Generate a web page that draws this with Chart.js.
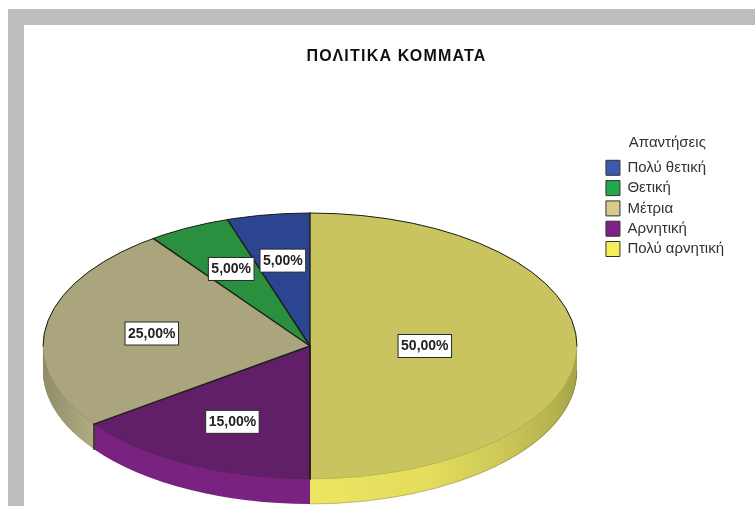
<!DOCTYPE html>
<html><head><meta charset="utf-8">
<style>
html,body{margin:0;padding:0;background:#fff;overflow:hidden}
#frame{position:absolute;left:8px;top:9px;width:747px;height:497px;background:#bdbdbd}
#wrap{position:absolute;left:24px;top:25px;width:731px;height:490px;background:#fff}
</style>
<script src="https://cdn.jsdelivr.net/npm/chart.js@4"></script>
</head><body>
<div id="frame"></div>
<div id="wrap"><canvas id="c" width="731" height="490"></canvas></div>
<script>
const chartTitle = 'ΠΟΛΙΤΙΚΑ ΚΟΜΜΑΤΑ';
const legendTitle = 'Απαντήσεις';
const categories = ['Πολύ αρνητική','Αρνητική','Μέτρια','Θετική','Πολύ θετική'];
const percentages = [50,15,25,5,5];
const topColors = ['#c9c45f','#611f68','#aba57e','#2a8f3e','#2b4590'];
const legendColors = ['#f5ee5b','#7d2289','#d8c98d','#23a84d','#3a5bab'];
const sideColors = ['#ebe35f','#7a2380','#b2ae83','#2a8f3e','#2b4590'];
const labelRadii = [0.43,0.64,0.6,0.65,0.65];

const PIE = {x:286, y:321, rx:267, ry:133, depth:25};
const R = 200;
const FONT = '"Liberation Sans", Arial, sans-serif';

const ellipsePie = {
  id:'ellipsePie',
  beforeDraw(chart){
    const tb = chart.titleBlock;
    if(tb && !tb._spaced){
      const orig = tb.draw;
      tb.draw = function(){
        chart.ctx.letterSpacing = '1.2px';
        orig.call(this);
        chart.ctx.letterSpacing = '0px';
      };
      tb._spaced = true;
    }
  },
  beforeDatasetsDraw(chart){
    const ctx = chart.ctx, arcs = chart.getDatasetMeta(0).data;
    const c0 = arcs[0];
    ctx.save();
    ctx.translate(PIE.x, PIE.y);
    ctx.scale(PIE.rx/R, PIE.ry/R);
    ctx.translate(-c0.x, -c0.y);
    const dy = PIE.depth * R / PIE.ry;
    const yellow = ctx.createLinearGradient(c0.x,0,c0.x+R,0);
    yellow.addColorStop(0,'#ede662');
    yellow.addColorStop(0.45,'#e3dc5c');
    yellow.addColorStop(0.7,'#cfca58');
    yellow.addColorStop(0.92,'#b5b24e');
    yellow.addColorStop(1,'#a5a24a');
    const tan = ctx.createLinearGradient(c0.x-R,0,c0.x-R*0.8,0);
    tan.addColorStop(0,'#8f8c6a');
    tan.addColorStop(1,sideColors[2]);
    const fills = sideColors.slice();
    fills[0] = yellow; fills[2] = tan;
    for(let s=dy; s>0; s-=1){
      arcs.forEach((arc,i)=>{
        const orig = arc.options;
        const o = Object.create(orig);
        o.backgroundColor = fills[i];
        arc.options = o;
        ctx.save(); ctx.translate(0,s); arc.draw(ctx); ctx.restore();
        arc.options = orig;
      });
    }
    arcs.forEach(arc=>arc.draw(ctx));
    ctx.restore();

    // outlines in screen space, following the arcs' own angles
    ctx.save();
    ctx.lineCap = 'round';
    ctx.strokeStyle = 'rgba(40,40,10,0.13)'; ctx.lineWidth = 1;
    ctx.beginPath(); ctx.ellipse(PIE.x,PIE.y,PIE.rx,PIE.ry,0,0,Math.PI); ctx.stroke();
    ctx.strokeStyle = 'rgba(50,50,20,0.35)'; ctx.lineWidth = 0.8;
    ctx.beginPath(); ctx.ellipse(PIE.x,PIE.y+PIE.depth,PIE.rx,PIE.ry,0,0,Math.PI/2); ctx.stroke();
    ctx.strokeStyle = '#1c1c1c'; ctx.lineWidth = 1;
    ctx.beginPath(); ctx.ellipse(PIE.x,PIE.y,PIE.rx,PIE.ry,0,Math.PI,2*Math.PI); ctx.stroke();
    ctx.lineWidth = 1.4; ctx.strokeStyle = '#1c1c1c';
    arcs.forEach(arc=>{
      const ex = PIE.x + Math.cos(arc.startAngle)*PIE.rx;
      const ey = PIE.y + Math.sin(arc.startAngle)*PIE.ry;
      ctx.beginPath(); ctx.moveTo(PIE.x,PIE.y); ctx.lineTo(ex,ey); ctx.stroke();
      if(Math.sin(arc.startAngle) > 0.05 && Math.abs(Math.cos(arc.startAngle)) > 0.05){
        ctx.beginPath(); ctx.moveTo(ex,ey); ctx.lineTo(ex,ey+PIE.depth); ctx.stroke();
      }
    });
    const c = arcs[0];
    const bx = PIE.x + Math.cos(c.endAngle)*PIE.rx, by = PIE.y + Math.sin(c.endAngle)*PIE.ry;
    ctx.beginPath(); ctx.moveTo(PIE.x,PIE.y); ctx.lineTo(bx,by); ctx.stroke();
    ctx.restore();
    return false;
  },
  afterDraw(chart){
    const ctx = chart.ctx, arcs = chart.getDatasetMeta(0).data;
    ctx.save();
    ctx.font = 'bold 14px ' + FONT;
    ctx.textAlign = 'center'; ctx.textBaseline = 'middle';
    arcs.forEach((arc,i)=>{
      const mid = (arc.startAngle+arc.endAngle)/2;
      const lx = PIE.x + Math.cos(mid)*PIE.rx*labelRadii[i];
      const ly = PIE.y + Math.sin(mid)*PIE.ry*labelRadii[i];
      const text = percentages[i].toFixed(2).replace('.',',')+'%';
      const w = ctx.measureText(text).width + 6, h = 23;
      ctx.fillStyle='#fff'; ctx.strokeStyle='#2a2a2a'; ctx.lineWidth=1;
      ctx.fillRect(lx-w/2,ly-h/2,w,h); ctx.strokeRect(lx-w/2,ly-h/2,w,h);
      ctx.fillStyle='#222';
      ctx.fillText(text,lx,ly+0.5);
    });
    ctx.restore();
  }
};

new Chart(document.getElementById('c'),{
  type:'pie',
  data:{labels:categories,datasets:[{
    data:percentages,
    backgroundColor:topColors,
    borderWidth:0,
    radius:R
  }]},
  options:{
    responsive:false,
    animation:false,
    layout:{padding:{left:35,right:21,top:0,bottom:0}},
    plugins:{
      tooltip:{enabled:false},
      title:{display:true,text:chartTitle,color:'#111',
        font:{family:FONT,size:16,weight:'bold'},
        padding:{top:22,bottom:0}},
      legend:{
        position:'right',align:'start',reverse:true,
        title:{display:true,text:legendTitle,color:'#333',
          font:{family:FONT,size:15},
          padding:{top:110,bottom:2}},
        labels:{
          boxWidth:14,boxHeight:15,padding:5.3,color:'#333',
          font:{family:FONT,size:15},
          generateLabels(chart){
            return categories.map((t,i)=>({
              text:t,fillStyle:legendColors[i],strokeStyle:'#333',lineWidth:1,index:i,hidden:false
            }));
          }
        }
      }
    }
  },
  plugins:[ellipsePie]
});
</script>
</body></html>
